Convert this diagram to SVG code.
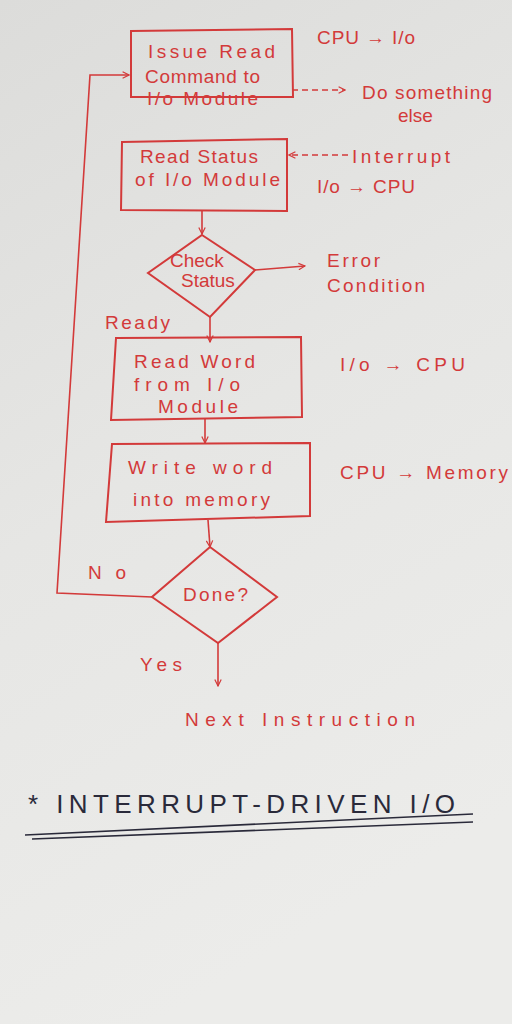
<svg xmlns="http://www.w3.org/2000/svg" width="512" height="1024" viewBox="0 0 512 1024">
<defs>
<linearGradient id="bg" x1="0" y1="0" x2="0.3" y2="1">
<stop offset="0" stop-color="#dcdcda"/>
<stop offset="0.5" stop-color="#e6e6e4"/>
<stop offset="1" stop-color="#ececea"/>
</linearGradient>
<marker id="ah" viewBox="0 0 10 10" refX="9" refY="5" markerWidth="8" markerHeight="8" orient="auto" markerUnits="userSpaceOnUse">
<path d="M1,1 L9,5 L1,9" fill="none" stroke="#d33a3a" stroke-width="1.5"/>
</marker>
</defs>
<style>
.s{fill:none;stroke:#d33a3a;stroke-width:2}
.c{fill:none;stroke:#d33a3a;stroke-width:1.6}
.d{fill:none;stroke:#d33a3a;stroke-width:1.6;stroke-dasharray:6 4}
.t{font-family:"Liberation Sans",Arial,sans-serif;font-size:19px;fill:#d33a3a}
.h{font-family:"Liberation Sans",Arial,sans-serif;font-size:26px;fill:#2a2a3a}
</style>
<rect width="512" height="1024" fill="url(#bg)"/>
<g id="connectors">
<polyline class="c" points="152,597 57,593 90,75 129,75" marker-end="url(#ah)"/>
<line class="d" x1="292" y1="90" x2="345" y2="90" marker-end="url(#ah)"/>
<line class="d" x1="348" y1="155" x2="289" y2="155" marker-end="url(#ah)"/>
<line class="c" x1="202" y1="210" x2="202" y2="234" marker-end="url(#ah)"/>
<line class="c" x1="255" y1="270" x2="305" y2="266" marker-end="url(#ah)"/>
<line class="c" x1="210" y1="317" x2="210" y2="342" marker-end="url(#ah)"/>
<line class="c" x1="205" y1="418" x2="205" y2="443" marker-end="url(#ah)"/>
<line class="c" x1="208" y1="520" x2="210" y2="547" marker-end="url(#ah)"/>
<line class="c" x1="218" y1="643" x2="218" y2="686" marker-end="url(#ah)"/>
</g>
<g id="issue">
<polygon class="s" points="131,31 292,29 293,97 131,97"/>
<text class="t" x="148" y="58" textLength="127" lengthAdjust="spacing">Issue Read</text>
<text class="t" x="145" y="83" textLength="115" lengthAdjust="spacing">Command to</text>
<text class="t" x="147" y="105" textLength="111" lengthAdjust="spacing">I/o Module</text>
</g>
<g id="readstatus">
<polygon class="s" points="122,142 287,139 287,211 121,210"/>
<text class="t" x="140" y="163" textLength="118" lengthAdjust="spacing">Read Status</text>
<text class="t" x="135" y="186" textLength="145" lengthAdjust="spacing">of  I/o Module</text>
</g>
<g id="check">
<polygon class="s" points="202,235 255,270 210,317 148,273"/>
<text class="t" x="170" y="267" font-size="15">Check</text>
<text class="t" x="181" y="287" font-size="15">Status</text>
</g>
<g id="readword">
<polygon class="s" points="116,338 301,337 302,417 111,420"/>
<text class="t" x="134" y="368" textLength="121" lengthAdjust="spacing">Read Word</text>
<text class="t" x="134" y="391" textLength="106" lengthAdjust="spacing">from I/o</text>
<text class="t" x="158" y="413" textLength="80" lengthAdjust="spacing">Module</text>
</g>
<g id="write">
<polygon class="s" points="112,444 310,443 310,516 106,522"/>
<text class="t" x="128" y="474" textLength="144" lengthAdjust="spacing">Write   word</text>
<text class="t" x="133" y="506" textLength="137" lengthAdjust="spacing">into  memory</text>
</g>
<g id="done">
<polygon class="s" points="210,547 277,597 218,643 152,597"/>
<text class="t" x="183" y="601" textLength="65" lengthAdjust="spacing">Done?</text>
</g>
<g id="labels">
<text class="t" x="317" y="44" font-size="17" textLength="98" lengthAdjust="spacing">CPU → I/o</text>
<text class="t" x="362" y="99" font-size="18" textLength="130" lengthAdjust="spacing">Do something</text>
<text class="t" x="398" y="122" font-size="18">else</text>
<text class="t" x="352" y="163" font-size="20" textLength="98" lengthAdjust="spacing">Interrupt</text>
<text class="t" x="317" y="193" font-size="17" textLength="98" lengthAdjust="spacing">I/o → CPU</text>
<text class="t" x="327" y="267" font-size="20" textLength="53" lengthAdjust="spacing">Error</text>
<text class="t" x="327" y="292" font-size="20" textLength="98" lengthAdjust="spacing">Condition</text>
<text class="t" x="105" y="329" textLength="65" lengthAdjust="spacing">Ready</text>
<text class="t" x="340" y="371" font-size="20" textLength="125" lengthAdjust="spacing">I/o → CPU</text>
<text class="t" x="340" y="479" font-size="18" textLength="168" lengthAdjust="spacing">CPU →  Memory</text>
<text class="t" x="88" y="579" textLength="38" lengthAdjust="spacing">No</text>
<text class="t" x="140" y="671" font-size="20" textLength="42" lengthAdjust="spacing">Yes</text>
<text class="t" x="185" y="726" font-size="23" textLength="230" lengthAdjust="spacing">Next  Instruction</text>
</g>
<g id="title">
<text class="h" x="28" y="813" textLength="427" lengthAdjust="spacing">* INTERRUPT-DRIVEN I/O</text>
<line x1="25" y1="835" x2="473" y2="814" stroke="#2a2a3a" stroke-width="1.6"/>
<line x1="32" y1="839" x2="473" y2="822" stroke="#2a2a3a" stroke-width="1.6"/>
</g>
</svg>
